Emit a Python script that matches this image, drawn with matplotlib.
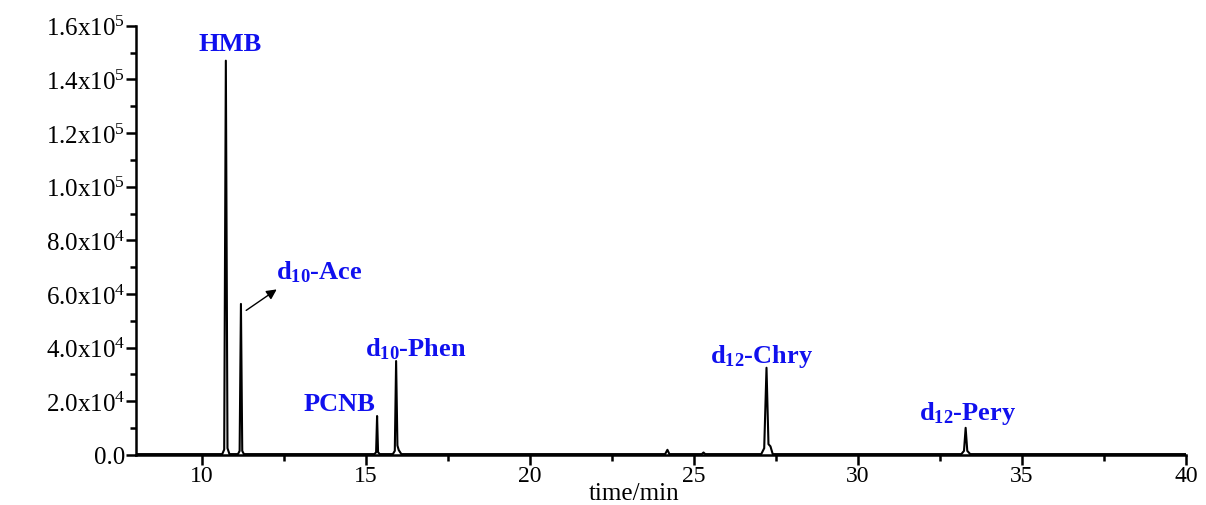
import matplotlib as mpl
mpl.use('Agg')
import matplotlib.pyplot as plt
from matplotlib.ticker import MultipleLocator, FixedLocator, FuncFormatter

# chromatogram points (time in min, intensity)
time = [8.0, 10.62, 10.68, 10.73, 10.78, 10.84, 11.10, 11.15, 11.19, 11.23, 11.28,
        15.26, 15.31, 15.34, 15.37, 15.42, 15.82, 15.88, 15.92, 15.96, 16.00, 16.08,
        24.12, 24.19, 24.25, 25.24, 25.29, 25.34,
        27.05, 27.14, 27.21, 27.27, 27.33, 27.40,
        33.15, 33.23, 33.28, 33.33, 33.42, 40.0]
intensity = [300, 300, 2000, 147000, 2500, 300, 300, 1500, 56300, 1500, 300,
             300, 1000, 14500, 1000, 300, 300, 1500, 35000, 3500, 1800, 300,
             300, 1900, 300, 300, 900, 300,
             300, 2500, 32500, 4000, 3200, 300,
             300, 1500, 10100, 1500, 300, 300]

labels = ['HMB', r'$\mathbf{d_{10}}$-Ace', 'PCNB', r'$\mathbf{d_{10}}$-Phen',
          r'$\mathbf{d_{12}}$-Chry', r'$\mathbf{d_{12}}$-Pery']
label_x = [10.85, 13.57, 14.18, 16.53, 27.06, 33.34]
label_y = [153300, 68600, 19000, 39900, 36900, 15700]

y_ticks = [0, 20000, 40000, 60000, 80000, 100000, 120000, 140000, 160000]

plt.rcParams['font.family'] = 'Liberation Serif'
plt.rcParams['mathtext.fontset'] = 'custom'
plt.rcParams['mathtext.rm'] = 'Liberation Serif'
plt.rcParams['mathtext.it'] = 'Liberation Serif'
plt.rcParams['mathtext.bf'] = 'Liberation Serif:bold'

fig = plt.figure(figsize=(12.06, 5.06), dpi=100)
ax = fig.add_axes([0.113, 0.099, 0.8705, 0.848])

ax.plot(time, intensity, color='black', lw=1.5)

ax.set_xlim(8, 40)
ax.set_ylim(0, 160000)
ax.xaxis.set_major_locator(MultipleLocator(5))
ax.xaxis.set_minor_locator(MultipleLocator(2.5))
ax.yaxis.set_major_locator(FixedLocator(y_ticks))
ax.yaxis.set_minor_locator(MultipleLocator(10000))


def fmt(v, pos):
    if v == 0:
        return '0.0'
    e = 5 if v >= 100000 else 4
    return r'%.1fx10$^{%d}$' % (v / 10 ** e, e)


ax.yaxis.set_major_formatter(FuncFormatter(fmt))

for s in ['top', 'right']:
    ax.spines[s].set_visible(False)
for s in ['left', 'bottom']:
    ax.spines[s].set_linewidth(1.8)
ax.tick_params(which='major', direction='out', length=7, width=1.8, labelsize=18, pad=1)
ax.tick_params(axis='x', which='major', labelsize=17, pad=0)
ax.tick_params(which='minor', direction='out', length=4, width=1.8)

ax.set_xlabel('time/min', fontsize=18)
ax.xaxis.set_label_coords(0.474, -0.062)

for t, x, y in zip(labels, label_x, label_y):
    ax.text(x, y, t, color='#1010ee', fontsize=19, fontweight='bold',
            ha='center', va='center')

ax.annotate('', xy=(12.35, 62300), xytext=(11.28, 53300),
            arrowprops=dict(arrowstyle='-|>', color='black', lw=1, mutation_scale=15))

plt.savefig('out.png', format='png')
